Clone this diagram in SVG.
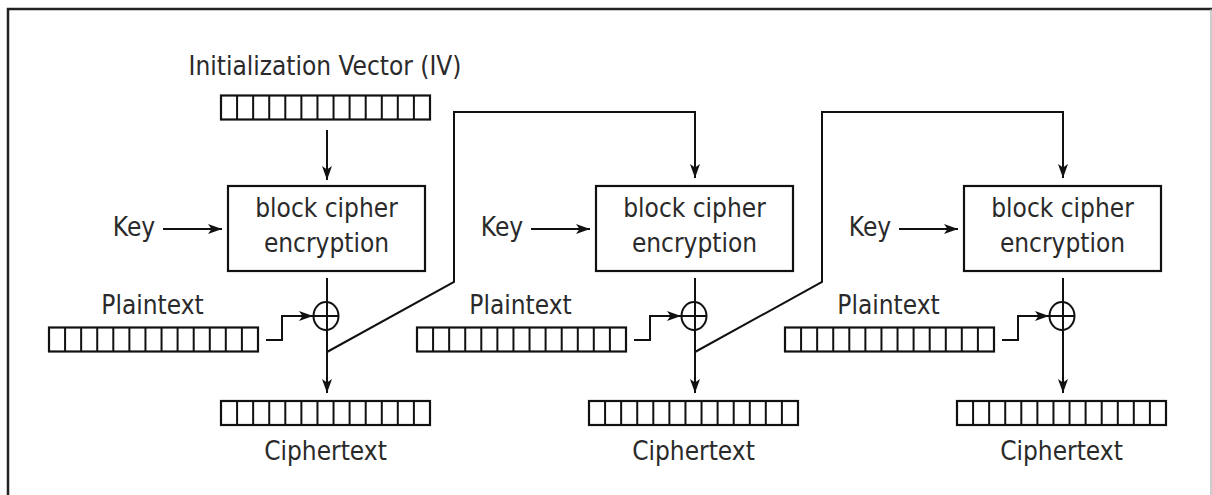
<svg xmlns="http://www.w3.org/2000/svg" xmlns:xlink="http://www.w3.org/1999/xlink" width="1212" height="495" viewBox="0 0 1212 495">
<style>
text{font-family:"DejaVu Sans Condensed","DejaVu Sans",sans-serif;font-stretch:condensed;font-size:26px;fill:#2a2a2a;text-anchor:middle}
.ln{fill:none;stroke:#111;stroke-width:2}
.ar{fill:none;stroke:#111;stroke-width:2;marker-end:url(#ah)}
.box{fill:#fff;stroke:#111;stroke-width:2.2}
</style>
<defs>
<marker id="ah" markerUnits="userSpaceOnUse" markerWidth="16" markerHeight="12" refX="14" refY="6" orient="auto">
<path d="M0,1 L14,6 L0,11 L3.5,6 Z" fill="#111"/>
</marker>
<g id="reg">
<rect x="0" y="0" width="209" height="24" fill="#fff" stroke="#111" stroke-width="2.2"/>
<path d="M16.08,0V24M32.15,0V24M48.23,0V24M64.3,0V24M80.38,0V24M96.46,0V24M112.54,0V24M128.6,0V24M144.7,0V24M160.8,0V24M176.8,0V24M192.9,0V24" stroke="#111" stroke-width="2"/>
</g>
</defs>
<rect width="1212" height="495" fill="#fff"/>
<g id="frame">
<path d="M8,495V9H1212" fill="none" stroke="#222" stroke-width="2.5"/>
<path d="M1211,9V495" stroke="#aaa" stroke-width="1.2"/>
</g>
<g id="connectors">
<path class="ar" d="M327,130V180"/>
<path class="ar" d="M163,229H222"/>
<path class="ar" d="M531,229H590"/>
<path class="ar" d="M899,229H958"/>
<path class="ar" d="M327,278V393"/>
<path class="ar" d="M695,278V393"/>
<path class="ar" d="M1063,278V393"/>
<path class="ar" d="M266,340H282V316H313"/>
<path class="ar" d="M634,340H650V316H681"/>
<path class="ar" d="M1002,340H1018V316H1049"/>
<path class="ar" d="M327,352L454,282V112H695V178"/>
<path class="ar" d="M695,352L822,282V112H1063V178"/>
</g>
<g id="iv">
<text x="325" y="75">Initialization Vector (IV)</text>
<use xlink:href="#reg" x="221" y="95.5"/>
</g>
<g id="key1"><text x="134" y="236">Key</text></g>
<g id="key2"><text x="502" y="236">Key</text></g>
<g id="key3"><text x="870" y="236">Key</text></g>
<g id="enc1">
<rect class="box" x="228" y="186" width="197" height="85"/>
<text x="326.5" y="217">block cipher</text>
<text x="326.5" y="252">encryption</text>
</g>
<g id="enc2">
<rect class="box" x="596" y="186" width="197" height="85"/>
<text x="694.5" y="217">block cipher</text>
<text x="694.5" y="252">encryption</text>
</g>
<g id="enc3">
<rect class="box" x="964" y="186" width="197" height="85"/>
<text x="1062.5" y="217">block cipher</text>
<text x="1062.5" y="252">encryption</text>
</g>
<g id="xor1"><ellipse class="ln" cx="326" cy="316" rx="12.5" ry="14"/><path class="ln" d="M313.5,316H338.5"/></g>
<g id="xor2"><ellipse class="ln" cx="694" cy="316" rx="12.5" ry="14"/><path class="ln" d="M681.5,316H706.5"/></g>
<g id="xor3"><ellipse class="ln" cx="1062" cy="316" rx="12.5" ry="14"/><path class="ln" d="M1049.5,316H1074.5"/></g>
<g id="pt1"><text x="152.5" y="314">Plaintext</text><use xlink:href="#reg" x="49" y="327.5"/></g>
<g id="pt2"><text x="520.5" y="314">Plaintext</text><use xlink:href="#reg" x="417" y="327.5"/></g>
<g id="pt3"><text x="888.5" y="314">Plaintext</text><use xlink:href="#reg" x="785" y="327.5"/></g>
<g id="ct1"><use xlink:href="#reg" x="221" y="401"/><text x="325.5" y="460">Ciphertext</text></g>
<g id="ct2"><use xlink:href="#reg" x="589" y="401"/><text x="693.5" y="460">Ciphertext</text></g>
<g id="ct3"><use xlink:href="#reg" x="957" y="401"/><text x="1061.5" y="460">Ciphertext</text></g>
</svg>
